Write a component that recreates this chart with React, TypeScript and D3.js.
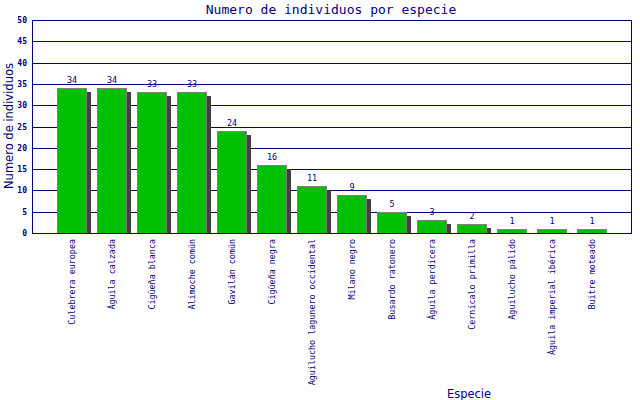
import React, { useEffect, useRef } from "react";
import * as d3 from "d3";

const especies = [
  "Culebrera europea",
  "Águila calzada",
  "Cigüeña blanca",
  "Alimoche común",
  "Gavilán común",
  "Cigüeña negra",
  "Aguilucho lagunero occidental",
  "Milano negro",
  "Busardo ratonero",
  "Águila perdicera",
  "Cernícalo primilla",
  "Aguilucho pálido",
  "Águila imperial ibérica",
  "Buitre moteado",
];
const individuos = [34, 34, 33, 33, 24, 16, 11, 9, 5, 3, 2, 1, 1, 1];
const yTicks = [0, 5, 10, 15, 20, 25, 30, 35, 40, 45, 50];

const W = 640;
const H = 400;
const NAVY = "#000080";
const MONO = "'DejaVu Sans Mono', monospace";
const SANS = "'DejaVu Sans', sans-serif";

const App = () => {
  const ref = useRef<SVGSVGElement>(null);

  useEffect(() => {
    const svg = d3.select(ref.current);
    svg.selectAll("*").remove();

    const left = 32, right = 631, top = 20, bottom = 233;
    const y = d3.scaleLinear().domain([0, 50]).range([bottom, top]);
    const x = d3
      .scaleBand()
      .domain(especies)
      .range([52, 612])
      .paddingInner(0.25)
      .paddingOuter(0.125);

    svg.append("rect").attr("width", W).attr("height", H).attr("fill", "#fff");

    // title
    svg
      .append("text")
      .attr("x", 331)
      .attr("y", 14)
      .attr("text-anchor", "middle")
      .attr("fill", NAVY)
      .style("font", `13px ${MONO}`)
      .text("Numero de individuos por especie");

    // gridlines
    svg
      .append("g")
      .selectAll("line")
      .data(yTicks)
      .join("line")
      .attr("x1", left)
      .attr("x2", right)
      .attr("y1", (d) => Math.round(y(d)) + 0.5)
      .attr("y2", (d) => Math.round(y(d)) + 0.5)
      .attr("stroke", NAVY)
      .attr("stroke-width", 1)
      .attr("shape-rendering", "crispEdges");

    // y tick labels
    svg
      .append("g")
      .selectAll("text")
      .data(yTicks)
      .join("text")
      .attr("x", 27)
      .attr("y", (d) => y(d) + 3)
      .attr("text-anchor", "end")
      .attr("fill", NAVY)
      .style("font", `bold 8px ${MONO}`)
      .text((d) => d);

    const bars = svg.append("g");
    const data = especies.map((e, i) => ({ e, v: individuos[i] }));

    // shadows
    bars
      .selectAll("rect.shadow")
      .data(data)
      .join("rect")
      .attr("class", "shadow")
      .attr("x", (d) => x(d.e)! + x.bandwidth())
      .attr("y", (d) => y(d.v) + 4)
      .attr("width", 4)
      .attr("height", (d) => Math.max(0, bottom - y(d.v) - 4))
      .attr("fill", "#404040")
      .attr("shape-rendering", "crispEdges");

    bars
      .selectAll("rect.bar")
      .data(data)
      .join("rect")
      .attr("class", "bar")
      .attr("x", (d) => x(d.e)! + 0.5)
      .attr("y", (d) => Math.round(y(d.v)) + 0.5)
      .attr("width", x.bandwidth() - 1)
      .attr("height", (d) => bottom - Math.round(y(d.v)))
      .attr("fill", "#00c000")
      .attr("stroke", "#808080")
      .attr("stroke-width", 1)
      .attr("shape-rendering", "crispEdges");

    // value labels
    svg
      .append("g")
      .selectAll("text")
      .data(data)
      .join("text")
      .attr("x", (d) => x(d.e)! + x.bandwidth() / 2)
      .attr("y", (d) => y(d.v) - 5)
      .attr("text-anchor", "middle")
      .attr("fill", NAVY)
      .style("font", `8.5px ${MONO}`)
      .text((d) => d.v);

    // frame
    svg
      .append("rect")
      .attr("x", left + 0.5)
      .attr("y", top + 0.5)
      .attr("width", right - left)
      .attr("height", bottom - top)
      .attr("fill", "none")
      .attr("stroke", NAVY)
      .attr("stroke-width", 1)
      .attr("shape-rendering", "crispEdges");

    // category labels
    svg
      .append("g")
      .selectAll("text")
      .data(especies)
      .join("text")
      .attr(
        "transform",
        (d) => `translate(${x(d)! + x.bandwidth() / 2 + 3},239) rotate(-90)`
      )
      .attr("text-anchor", "end")
      .attr("fill", NAVY)
      .style("font", `8.4px ${MONO}`)
      .text((d) => d);

    // axis titles
    svg
      .append("text")
      .attr("transform", `translate(13,126) rotate(-90)`)
      .attr("text-anchor", "middle")
      .attr("fill", NAVY)
      .style("font", `11.5px ${SANS}`)
      .text("Numero de individuos");

    svg
      .append("text")
      .attr("x", 469)
      .attr("y", 398)
      .attr("text-anchor", "middle")
      .attr("fill", NAVY)
      .style("font", `11.5px ${SANS}`)
      .text("Especie");
  }, []);

  return (
    <svg
      ref={ref}
      width={W}
      height={H}
      style={{ position: "absolute", left: 0, top: 0 }}
    />
  );
};

export default App;
